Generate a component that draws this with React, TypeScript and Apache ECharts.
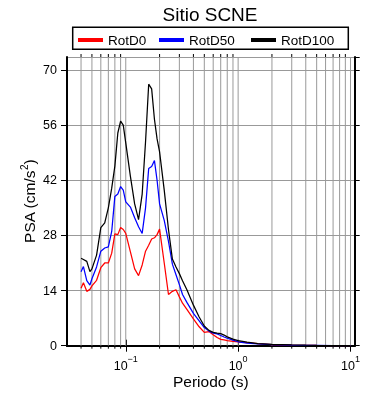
import React, { useEffect, useRef } from 'react';
import * as echarts from 'echarts';

const periods = [0.04, 0.042, 0.045, 0.048, 0.05, 0.055, 0.06, 0.065, 0.07, 0.075, 0.08, 0.085, 0.09, 0.095, 0.1, 0.11, 0.12, 0.13, 0.14, 0.15, 0.16, 0.17, 0.18, 0.19, 0.2, 0.22, 0.24, 0.26, 0.28, 0.3, 0.32, 0.35, 0.4, 0.45, 0.5, 0.55, 0.6, 0.65, 0.7, 0.75, 0.8, 0.9, 1.0, 1.2, 1.5, 2, 3, 4, 5, 7, 10];
const rotD0 = [14.6, 16, 13.8, 14.3, 15.2, 16.6, 19.8, 21, 21, 23.5, 28.4, 28.2, 30, 29.5, 28.5, 23.8, 19.5, 17.8, 20.5, 24, 25.5, 27.1, 27.4, 28.2, 29.6, 21, 13, 13.8, 14.2, 12.4, 10.8, 9.2, 6.8, 4.8, 3.4, 3.6, 2.8, 2.1, 1.6, 1.45, 1.3, 1.1, 0.95, 0.8, 0.5, 0.3, 0.15, 0.09, 0.06, 0.035, 0.02];
const rotD50 = [18.8, 20.1, 16.5, 15.4, 17, 20, 24, 24.8, 25.1, 29, 37.9, 38.5, 40.4, 39.5, 36.5, 35.2, 32.5, 30.2, 28.5, 35, 45, 45.5, 47, 42, 36, 31.8, 26.5, 20.7, 18, 15.5, 13, 11, 8.2, 6.3, 4.6, 3.7, 3.2, 3.0, 2.6, 2.2, 1.9, 1.4, 1.0, 0.65, 0.45, 0.3, 0.17, 0.1, 0.07, 0.04, 0.025];
const rotD100 = [22.2, 21.9, 21.4, 18.8, 19.5, 23, 30, 31.2, 35, 40, 45.6, 54, 57, 56, 51.5, 43, 36, 32, 38.5, 51.8, 66.4, 65.2, 57.5, 52.5, 49.2, 39.5, 29.5, 22, 20, 18.3, 16.5, 14.2, 10.3, 7.3, 5.0, 3.9, 3.4, 3.2, 3.05, 2.7, 2.25, 1.65, 1.3, 0.9, 0.55, 0.35, 0.2, 0.12, 0.08, 0.05, 0.03];

const seriesNames = ['RotD0', 'RotD50', 'RotD100'];
const seriesColors = ['#ff0000', '#0000ff', '#000000'];

const gridPeriods = [0.04, 0.05, 0.06, 0.07, 0.08, 0.09, 0.1, 0.2, 0.3, 0.4, 0.5, 0.6, 0.7, 0.8, 0.9, 1, 2, 3, 4, 5, 6, 7, 8, 9, 10];
const majorPeriods = [0.1, 1, 10];

const X_MIN = 0.03;
const X_MAX = 10.9;
const Y_MIN = 0;
const Y_MAX = 73.3;
const Y_INTERVAL = 14;

const FONT = 'Liberation Sans, Arial, sans-serif';

export default function App() {
  const ref = useRef<HTMLDivElement>(null);

  useEffect(() => {
    const chart = echarts.init(ref.current!, null, { renderer: 'svg' });

    const lineData = [rotD0, rotD50, rotD100].map((vals) => periods.map((p, i) => [p, vals[i]]));

    const gridData = gridPeriods.map((p) => [p, majorPeriods.indexOf(p) >= 0 ? 1 : 0]);

    const supRich = {
      b: { fontSize: 12.5, fontFamily: FONT, color: '#000', lineHeight: 18, verticalAlign: 'bottom' },
      s: { fontSize: 9, fontFamily: FONT, color: '#000', lineHeight: 12, verticalAlign: 'top' },
    };

    const option: any = {
      animation: false,
      textStyle: { fontFamily: FONT },
      graphic: [
        {
          type: 'text',
          x: 210,
          y: 14,
          style: {
            text: 'Sitio SCNE',
            fontSize: 19,
            fontFamily: FONT,
            fill: '#000',
            textAlign: 'center',
            textVerticalAlign: 'middle',
          },
        },
        {
          type: 'rect',
          shape: { x: 72.7, y: 27.3, width: 275.6, height: 22 },
          style: { fill: 'rgba(0,0,0,0)', stroke: '#000', lineWidth: 1.5 },
        },
      ],
      legend: [
        { left: 78, text: 'RotD0' },
        { left: 159, text: 'RotD50' },
        { left: 251, text: 'RotD100' },
      ].map((l) => ({
        data: [l.text],
        left: l.left,
        top: 33,
        padding: 0,
        icon: 'rect',
        itemWidth: 25,
        itemHeight: 4,
        selectedMode: false,
        textStyle: { fontSize: 13.5, fontFamily: FONT, color: '#000' },
      })),
      grid: {
        left: 67,
        right: 35.3,
        top: 57,
        bottom: 54.3,
        outerBoundsMode: 'none',
      },
      xAxis: [
        {
          type: 'log',
          logBase: 10,
          min: X_MIN,
          max: X_MAX,
          position: 'bottom',
          name: 'Periodo (s)',
          nameLocation: 'middle',
          nameGap: 28,
          nameMoveOverlap: false,
          nameTextStyle: { fontSize: 15.5, fontFamily: FONT, color: '#000' },
          axisLine: { show: true, lineStyle: { color: '#000', width: 2 } },
          axisTick: { show: true, length: 6, lineStyle: { color: '#000', width: 1 } },
          axisLabel: {
            showMinLabel: false,
            showMaxLabel: false,
            margin: 9,
            color: '#000',
            formatter: (v: number) => {
              const e = Math.round(Math.log10(v));
              return '{b|10}{s|' + (e < 0 ? '\u2212' + -e : String(e)) + '}';
            },
            rich: supRich,
          },
          splitLine: { show: false },
        },
        {
          type: 'log',
          logBase: 10,
          min: X_MIN,
          max: X_MAX,
          position: 'top',
          axisLine: { show: true, lineStyle: { color: '#000', width: 2 } },
          axisTick: { show: true, length: 6, lineStyle: { color: '#000', width: 1 } },
          axisLabel: { show: false },
          splitLine: { show: false },
        },
      ],
      yAxis: [
        {
          type: 'value',
          min: Y_MIN,
          max: Y_MAX,
          interval: Y_INTERVAL,
          position: 'left',
          name: 'PSA (cm/s{s|2})',
          nameLocation: 'middle',
          nameGap: 28,
          nameMoveOverlap: false,
          nameTextStyle: {
            fontSize: 15.5,
            fontFamily: FONT,
            color: '#000',
            lineHeight: 20,
            rich: {
              s: { fontSize: 10, fontFamily: FONT, color: '#000', verticalAlign: 'top', lineHeight: 12 },
            },
          },
          axisLine: { show: true, lineStyle: { color: '#000', width: 2 } },
          axisTick: { show: true, length: 6, lineStyle: { color: '#000', width: 1 } },
          axisLabel: { showMaxLabel: false, margin: 10, fontSize: 12.5, fontFamily: FONT, color: '#000' },
          splitLine: { show: true, lineStyle: { color: '#999', width: 1 } },
        },
        {
          type: 'value',
          min: Y_MIN,
          max: Y_MAX,
          interval: Y_INTERVAL,
          position: 'right',
          axisLine: { show: true, lineStyle: { color: '#000', width: 2 } },
          axisTick: { show: true, length: 5, lineStyle: { color: '#000', width: 1 } },
          axisLabel: { show: false },
          splitLine: { show: false },
        },
      ],
      series: [
        {
          type: 'custom',
          name: 'grid',
          xAxisIndex: 0,
          yAxisIndex: 0,
          z: 1,
          clip: false,
          silent: true,
          encode: { x: 0, y: 1 },
          data: gridData,
          renderItem: (params: any, api: any) => {
            const v = api.value(0);
            const major = api.value(1);
            const b = api.coord([v, Y_MIN]);
            const t = api.coord([v, Y_MAX]);
            const x = b[0];
            const children: any[] = [
              { type: 'line', shape: { x1: x, y1: t[1], x2: x, y2: b[1] }, style: { stroke: '#999', lineWidth: 1 } },
            ];
            if (!major) {
              children.push({ type: 'line', shape: { x1: x, y1: b[1], x2: x, y2: b[1] + 3 }, style: { stroke: '#000', lineWidth: 1 } });
              children.push({ type: 'line', shape: { x1: x, y1: t[1], x2: x, y2: t[1] - 3 }, style: { stroke: '#000', lineWidth: 1 } });
            }
            return { type: 'group', children };
          },
        },
        ...seriesNames.map((name, i) => ({
          type: 'line',
          name,
          xAxisIndex: 0,
          yAxisIndex: 0,
          data: lineData[i],
          showSymbol: false,
          symbol: 'none',
          z: 3,
          color: seriesColors[i],
          lineStyle: { color: seriesColors[i], width: 1.25 },
        })),
      ],
    };

    chart.setOption(option);
    return () => chart.dispose();
  }, []);

  return <div ref={ref} style={{ position: 'fixed', left: 0, top: 0, width: 390, height: 400 }} />;
}
